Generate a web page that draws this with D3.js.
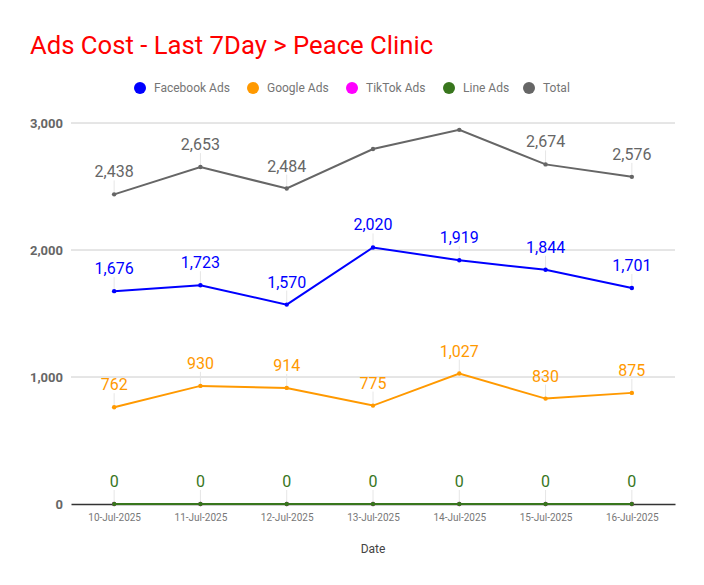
<!DOCTYPE html>
<html>
<head>
<meta charset="utf-8">
<script src="https://cdn.jsdelivr.net/npm/d3@7"></script>
<style>
  body { margin: 0; background: #fff; }
  svg { font-family: Roboto, sans-serif; }
</style>
</head>
<body>
<svg></svg>
<script>
const dates = ['10-Jul-2025', '11-Jul-2025', '12-Jul-2025', '13-Jul-2025', '14-Jul-2025', '15-Jul-2025', '16-Jul-2025'];
const facebook = [1676, 1723, 1570, 2020, 1919, 1844, 1701];
const google = [762, 930, 914, 775, 1027, 830, 875];
const tiktok = [0, 0, 0, 0, 0, 0, 0];
const lineAds = [0, 0, 0, 0, 0, 0, 0];
const total = [2438, 2653, 2484, 2795, 2946, 2674, 2576];
// labels the original chart left out (overlap)
const totalLabelShown = [true, true, true, false, false, true, true];
const tiktokLabelShown = [false, false, false, false, false, false, false];
const yTicks = [0, 1000, 2000, 3000];

const series = [
  {name: 'Facebook Ads', color: '#0000ff', values: facebook},
  {name: 'Google Ads', color: '#ff9900', values: google},
  {name: 'TikTok Ads', color: '#ff00ff', values: tiktok, shown: tiktokLabelShown},
  {name: 'Line Ads', color: '#38761d', values: lineAds},
  {name: 'Total', color: '#666666', values: total, shown: totalLabelShown}
];

const width = 704, height = 585;
const plotLeft = 71, plotRight = 675, plotTop = 123, plotBottom = 504;

const svg = d3.select('svg').attr('width', width).attr('height', height);

svg.append('text')
    .attr('x', 30).attr('y', 54)
    .attr('fill', '#ff0000')
    .attr('font-size', 25.7)
    .text('Ads Cost - Last 7Day > Peace Clinic');

const x = d3.scalePoint().domain(dates).range([plotLeft, plotRight]).padding(0.5);
const y = d3.scaleLinear().domain([0, 3000]).range([plotBottom, plotTop]);

// grid
svg.append('g')
    .selectAll('line')
    .data(yTicks.filter(d => d > 0))
    .join('line')
    .attr('x1', plotLeft).attr('x2', plotRight)
    .attr('y1', d => y(d)).attr('y2', d => y(d))
    .attr('stroke', '#cccccc').attr('stroke-width', 1);

const yAxis = svg.append('g')
    .attr('transform', 'translate(' + plotLeft + ',0)')
    .call(d3.axisLeft(y).tickValues(yTicks).tickSize(0).tickPadding(8).tickFormat(d3.format(',')));
yAxis.select('.domain').remove();
yAxis.selectAll('text')
    .attr('font-family', 'Roboto, sans-serif')
    .attr('font-size', 13).attr('font-weight', 'bold').attr('fill', '#666');

const xAxis = svg.append('g')
    .attr('transform', 'translate(0,' + plotBottom + ')')
    .call(d3.axisBottom(x).tickSize(0).tickPadding(10));
xAxis.select('.domain').attr('stroke', '#333').attr('stroke-width', 1.3);
xAxis.selectAll('text')
    .attr('font-family', 'Roboto, sans-serif')
    .attr('font-size', 10).attr('fill', '#777');

svg.append('text')
    .attr('x', (plotLeft + plotRight) / 2).attr('y', 553)
    .attr('text-anchor', 'middle')
    .attr('font-size', 12).attr('fill', '#444')
    .text('Date');

// leader lines first
series.forEach(s => {
  svg.append('g')
      .selectAll('line')
      .data(s.values.map((v, i) => ({v, i})).filter(d => !s.shown || s.shown[d.i]))
      .join('line')
      .attr('x1', d => x(dates[d.i])).attr('x2', d => x(dates[d.i]))
      .attr('y1', d => y(d.v) - 14).attr('y2', d => y(d.v))
      .attr('stroke', '#e6e6e6').attr('stroke-width', 1);
});

const line = d3.line().x((d, i) => x(dates[i])).y(d => y(d));

series.forEach(s => {
  const g = svg.append('g');
  g.append('path')
      .datum(s.values)
      .attr('fill', 'none')
      .attr('stroke', s.color)
      .attr('stroke-width', 2)
      .attr('d', line);
  g.selectAll('circle')
      .data(s.values)
      .join('circle')
      .attr('cx', (d, i) => x(dates[i])).attr('cy', d => y(d))
      .attr('r', 2.2).attr('fill', s.color);
  g.selectAll('text')
      .data(s.values.map((v, i) => ({v, i})).filter(d => !s.shown || s.shown[d.i]))
      .join('text')
      .attr('x', d => x(dates[d.i])).attr('y', d => y(d.v) - 17)
      .attr('text-anchor', 'middle')
      .attr('font-size', 16).attr('fill', s.color)
      .text(d => d3.format(',')(d.v));
});

// legend
const legendX = [140, 253, 352, 449, 529];
const legend = svg.append('g')
    .selectAll('g')
    .data(series)
    .join('g')
    .attr('transform', (d, i) => 'translate(' + legendX[i] + ',88)');
legend.append('circle').attr('r', 6).attr('fill', d => d.color);
legend.append('text')
    .attr('x', 14).attr('dy', '0.35em')
    .attr('font-size', 12).attr('fill', '#757575')
    .text(d => d.name);
</script>
</body>
</html>
